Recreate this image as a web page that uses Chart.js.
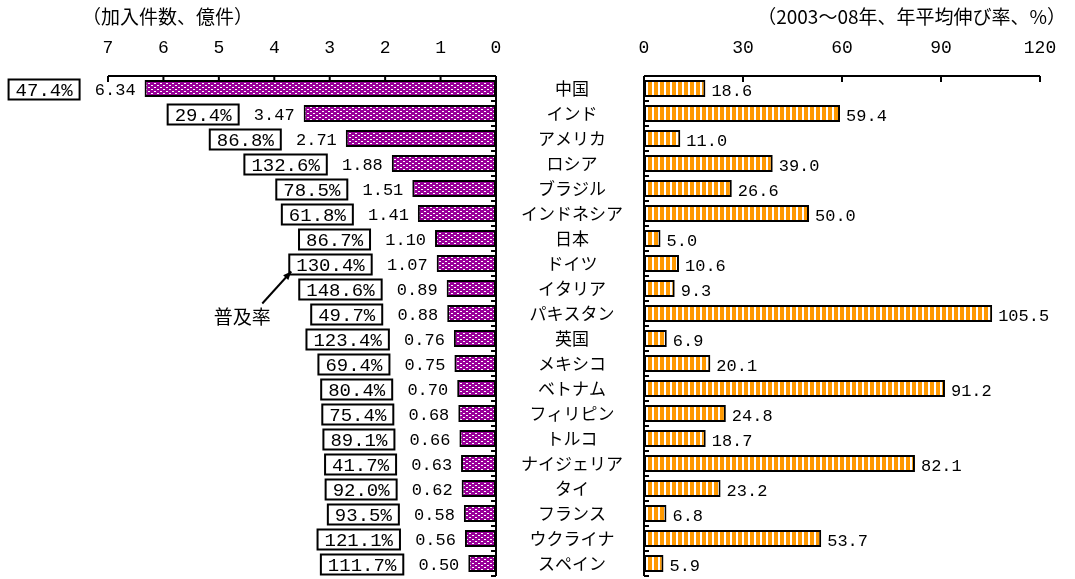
<!DOCTYPE html>
<html>
<head>
<meta charset="utf-8">
<script src="https://cdn.jsdelivr.net/npm/chart.js@4.4.1/dist/chart.umd.min.js"></script>
<style>
  body { margin: 0; background: #fff; }
  #wrap { position: relative; width: 1075px; height: 579px; }
  canvas { position: absolute; left: 0; top: 0; }
  .note { position: absolute; top: 6px; font: 19px "Noto Sans CJK JP"; line-height: 20px; color: #000; white-space: nowrap; }
</style>
</head>
<body>
<div id="wrap">
  <canvas id="left-chart" width="1075" height="579"></canvas>
  <canvas id="right-chart" width="1075" height="579"></canvas>
  <div class="note" style="left:82px">（加入件数、億件）</div>
  <div class="note" style="right:9px">（2003～08年、年平均伸び率、%）</div>
</div>
<script>
// data
var countries = ['中国', 'インド', 'アメリカ', 'ロシア', 'ブラジル', 'インドネシア', '日本', 'ドイツ', 'イタリア', 'パキスタン',
  '英国', 'メキシコ', 'ベトナム', 'フィリピン', 'トルコ', 'ナイジェリア', 'タイ', 'フランス', 'ウクライナ', 'スペイン'];
var subscribers = [6.34, 3.47, 2.71, 1.88, 1.51, 1.41, 1.10, 1.07, 0.89, 0.88, 0.76, 0.75, 0.70, 0.68, 0.66, 0.63, 0.62, 0.58, 0.56, 0.50];
var penetration = [47.4, 29.4, 86.8, 132.6, 78.5, 61.8, 86.7, 130.4, 148.6, 49.7, 123.4, 69.4, 80.4, 75.4, 89.1, 41.7, 92.0, 93.5, 121.1, 111.7];
var growth = [18.6, 59.4, 11.0, 39.0, 26.6, 50.0, 5.0, 10.6, 9.3, 105.5, 6.9, 20.1, 91.2, 24.8, 18.7, 82.1, 23.2, 6.8, 53.7, 5.9];
var leftMax = 7, leftStep = 1;
var rightMax = 120, rightStep = 30;
var noteLabel = '普及率';

var FONT = '"Noto Sans CJK JP", sans-serif';
var NUM_FONT = '"Liberation Mono", monospace';
Chart.defaults.font.family = FONT;
Chart.defaults.font.size = 17;
Chart.defaults.color = '#000';

// fill patterns
function dotPattern() {
  var c = document.createElement('canvas');
  c.width = 6; c.height = 4;
  var g = c.getContext('2d');
  g.fillStyle = '#990099';
  g.fillRect(0, 0, 6, 4);
  g.fillStyle = '#fff';
  g.fillRect(1, 1, 2, 1);
  g.fillRect(4, 3, 2, 1);
  return g.createPattern(c, 'repeat');
}
function stripePattern() {
  var c = document.createElement('canvas');
  c.width = 6; c.height = 4;
  var g = c.getContext('2d');
  g.fillStyle = '#ff9900';
  g.fillRect(0, 0, 6, 4);
  g.fillStyle = '#fff';
  g.fillRect(4, 0, 2, 4);
  return g.createPattern(c, 'repeat');
}

// axis lines with inward ticks
function drawFrame(chart, zeroSide) {
  var ctx = chart.ctx, xs = chart.scales.x, ys = chart.scales.y, a = chart.chartArea;
  var x0 = xs.getPixelForValue(0);
  var dir = zeroSide === 'right' ? -1 : 1;
  var step = ys.getPixelForValue(1) - ys.getPixelForValue(0);
  ctx.save();
  ctx.strokeStyle = '#000';
  ctx.lineWidth = 2;
  ctx.beginPath();
  ctx.moveTo(a.left, a.top);
  ctx.lineTo(a.right, a.top);
  xs.ticks.forEach(function(t) {
    var px = xs.getPixelForValue(t.value);
    ctx.moveTo(px, a.top);
    ctx.lineTo(px, a.top + 6);
  });
  ctx.moveTo(x0, a.top);
  ctx.lineTo(x0, a.bottom);
  for (var i = 0; i <= countries.length; i++) {
    var py = ys.getPixelForValue(i) - step / 2;
    ctx.moveTo(x0, py);
    ctx.lineTo(x0 + dir * 5, py);
  }
  ctx.stroke();
  ctx.restore();
}

var leftDecor = {
  id: 'leftDecor',
  afterDatasetsDraw: function(chart) {
    drawFrame(chart, 'right');
    var ctx = chart.ctx;
    var bars = chart.getDatasetMeta(0).data;
    ctx.save();
    ctx.fillStyle = '#000';
    ctx.strokeStyle = '#000';
    ctx.textBaseline = 'middle';
    var annoBox = null;
    bars.forEach(function(bar, i) {
      ctx.font = '17px ' + NUM_FONT;
      ctx.textAlign = 'right';
      ctx.fillText(subscribers[i].toFixed(2), bar.x - 9, bar.y + 2);
      var txt = penetration[i].toFixed(1) + '%';
      ctx.font = '19px ' + NUM_FONT;
      var w = ctx.measureText(txt).width + 14;
      var right = bar.x - 65;
      ctx.lineWidth = 2;
      ctx.strokeRect(right - w, bar.y - 9, w, 20);
      ctx.textAlign = 'center';
      ctx.fillText(txt, right - w / 2, bar.y + 2);
      if (i === 7) annoBox = { x: right - w, y: bar.y + 11 };
    });
    // 普及率 arrow pointing at a box
    if (annoBox) {
      var tx = annoBox.x + 2, ty = annoBox.y - 3;
      var sx = tx - 29, sy = ty + 32;
      ctx.lineWidth = 2;
      ctx.beginPath();
      ctx.moveTo(sx, sy);
      ctx.lineTo(tx, ty);
      ctx.stroke();
      var ang = Math.atan2(ty - sy, tx - sx);
      ctx.beginPath();
      ctx.moveTo(tx, ty);
      ctx.lineTo(tx - 9 * Math.cos(ang - 0.4), ty - 9 * Math.sin(ang - 0.4));
      ctx.lineTo(tx - 9 * Math.cos(ang + 0.4), ty - 9 * Math.sin(ang + 0.4));
      ctx.closePath();
      ctx.fill();
      ctx.font = '19px ' + FONT;
      ctx.textAlign = 'center';
      ctx.fillText(noteLabel, tx - 49, ty + 45);
    }
    ctx.restore();
  }
};

var rightDecor = {
  id: 'rightDecor',
  afterDatasetsDraw: function(chart) {
    drawFrame(chart, 'left');
    var ctx = chart.ctx;
    var bars = chart.getDatasetMeta(0).data;
    ctx.save();
    ctx.font = '17px ' + NUM_FONT;
    ctx.fillStyle = '#000';
    ctx.textBaseline = 'middle';
    ctx.textAlign = 'left';
    bars.forEach(function(bar, i) {
      ctx.fillText(growth[i].toFixed(1), bar.x + 6, bar.y + 3);
    });
    ctx.restore();
  }
};

var leftChart = new Chart(document.getElementById('left-chart'), {
  type: 'bar',
  data: {
    labels: countries,
    datasets: [{
      data: subscribers,
      backgroundColor: dotPattern(),
      borderColor: '#000',
      borderWidth: 2,
      borderSkipped: false,
      barPercentage: 0.68,
      categoryPercentage: 1
    }]
  },
  options: {
    indexAxis: 'y',
    responsive: false,
    animation: false,
    layout: { padding: { left: 108, right: 579, top: 0, bottom: 3 } },
    plugins: { legend: { display: false }, tooltip: { enabled: false } },
    scales: {
      x: {
        position: 'top',
        reverse: true,
        min: 0,
        max: leftMax,
        afterFit: function(s) { s.height = 76; },
        ticks: { stepSize: leftStep, padding: 9, font: { family: NUM_FONT, size: 18 } },
        grid: { display: false },
        border: { display: false }
      },
      y: { display: false }
    }
  },
  plugins: [leftDecor]
});

var rightChart = new Chart(document.getElementById('right-chart'), {
  type: 'bar',
  data: {
    labels: countries,
    datasets: [{
      data: growth,
      backgroundColor: stripePattern(),
      borderColor: '#000',
      borderWidth: 2,
      borderSkipped: false,
      barPercentage: 0.68,
      categoryPercentage: 1
    }]
  },
  options: {
    indexAxis: 'y',
    responsive: false,
    animation: false,
    layout: { padding: { left: 480, right: 35, top: 0, bottom: 3 } },
    plugins: { legend: { display: false }, tooltip: { enabled: false } },
    scales: {
      x: {
        position: 'top',
        min: 0,
        max: rightMax,
        afterFit: function(s) { s.height = 76; },
        ticks: { stepSize: rightStep, padding: 9, font: { family: NUM_FONT, size: 18 } },
        grid: { display: false },
        border: { display: false }
      },
      y: {
        position: 'left',
        afterFit: function(s) { s.width = 164; s.paddingTop = 0; s.paddingBottom = 0; },
        ticks: { crossAlign: 'center', padding: 13, autoSkip: false, font: { size: 17 } },
        grid: { display: false },
        border: { display: false }
      }
    }
  },
  plugins: [rightDecor]
});
</script>
</body>
</html>
